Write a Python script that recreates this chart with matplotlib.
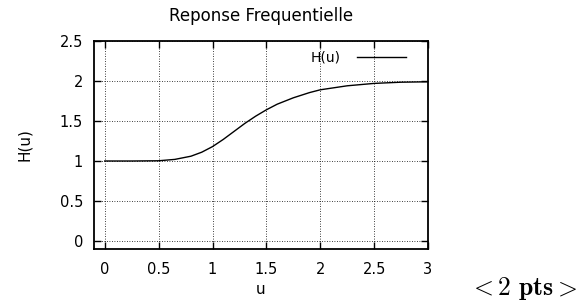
import matplotlib
matplotlib.use("Agg")
import matplotlib.pyplot as plt

# values
u = [0.0, 0.25, 0.5, 0.65, 0.8, 0.9, 1.0, 1.1, 1.2, 1.3, 1.4, 1.5, 1.6,
     1.75, 1.9, 2.0, 2.25, 2.5, 2.75, 3.0]
h = [1.0, 1.0, 1.003, 1.02, 1.06, 1.11, 1.18, 1.27, 1.37, 1.47, 1.56, 1.64,
     1.71, 1.79, 1.855, 1.89, 1.94, 1.97, 1.985, 1.99]

x_ticks = [0, 0.5, 1, 1.5, 2, 2.5, 3]
x_tick_labels = ["0", "0.5", "1", "1.5", "2", "2.5", "3"]
y_ticks = [0, 0.5, 1, 1.5, 2, 2.5]
y_tick_labels = ["0", "0.5", "1", "1.5", "2", "2.5"]

plt.rcParams['font.family'] = ['DejaVu Sans']
plt.rcParams['mathtext.fontset'] = 'cm'

fig = plt.figure(figsize=(5.78, 3.08), dpi=100)
ax = fig.add_axes([94 / 578, 59 / 308, 334 / 578, 208 / 308])

ax.plot(u, h, color='black', lw=1.0, label='H(u)')

ax.set_xlim(-0.1, 3.0)
ax.set_ylim(-0.1, 2.5)
ax.set_xticks(x_ticks)
ax.set_xticklabels(x_tick_labels)
ax.set_yticks(y_ticks)
ax.set_yticklabels(y_tick_labels)
ax.tick_params(direction='in', length=5, width=1, top=True, right=True,
               labelsize=10.5)
ax.tick_params(axis='x', pad=9)
ax.tick_params(axis='y', pad=8)
ax.grid(True, color='black', linestyle=(0, (1, 2)), lw=0.6)
for s in ax.spines.values():
    s.set_linewidth(1.3)

ax.set_title('Reponse Frequentielle', fontsize=12, pad=14.5)
ax.set_xlabel('u', fontsize=11, labelpad=4)
ax.set_ylabel('H(u)', fontsize=11)
ax.yaxis.set_label_coords(-0.186, 0.5)

ax.legend(loc='upper right', frameon=False, markerfirst=False,
          fontsize=10, handlelength=3.5, handletextpad=1.2,
          borderpad=0, borderaxespad=0, bbox_to_anchor=(0.934, 0.952))

fig.text(0.998, 0.042, r'$<\mathbf{2\ pts}>$', fontsize=18.5, ha='right',
         va='baseline')

fig.savefig('out.png', dpi=100)
